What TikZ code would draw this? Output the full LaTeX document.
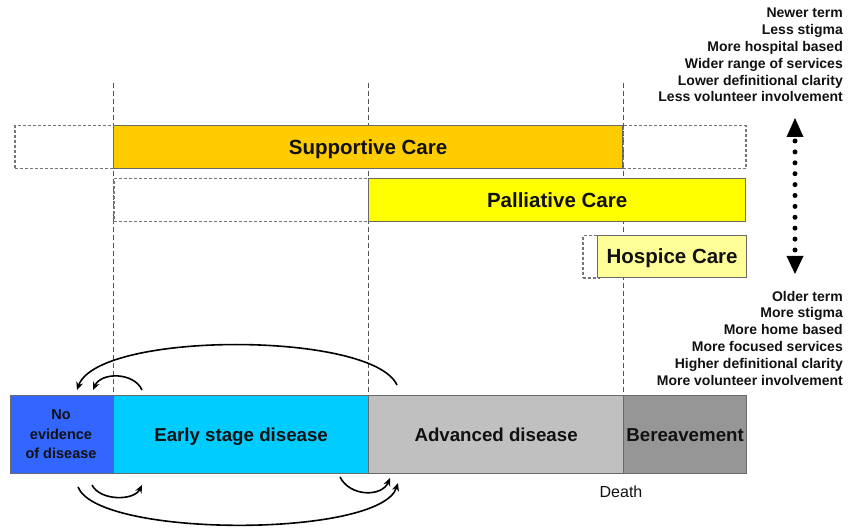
\documentclass[tikz,border=0pt]{standalone}
\usepackage{fontspec}
\setmainfont{Liberation Sans}
\usetikzlibrary{arrows.meta}
\definecolor{orangeC}{HTML}{FFCC00}
\definecolor{yellowC}{HTML}{FFFF00}
\definecolor{lightY}{HTML}{FFFF99}
\definecolor{blueC}{HTML}{3366FF}
\definecolor{cyanC}{HTML}{00CCFF}
\definecolor{greyA}{HTML}{C0C0C0}
\definecolor{greyB}{HTML}{969696}
\definecolor{boxline}{HTML}{6A6A6A}
\definecolor{ghostline}{HTML}{777777}
\definecolor{guideline}{HTML}{555555}
\definecolor{txt}{HTML}{111111}
\begin{document}
\begin{tikzpicture}[x=1pt,y=-1pt,
  carebox/.style={draw=boxline, line width=1.2pt, inner sep=0pt, anchor=north west,
    text=txt, font=\bfseries\fontsize{20.5}{24}\selectfont, text height=14.7pt, text depth=0pt},
  barbox/.style={draw=boxline, line width=1.2pt, inner sep=0pt, anchor=north west,
    text=txt, font=\bfseries\fontsize{18.7}{22}\selectfont, text height=13.4pt, text depth=0pt,
    minimum height=78pt},
  ghostbox/.style={draw=ghostline, line width=1.5pt, dash pattern=on 3pt off 2pt,
    inner sep=0pt, anchor=north west},
  guide/.style={draw=guideline, line width=1pt, dash pattern=on 5pt off 3pt},
  sidetext/.style={text=txt, font=\bfseries\fontsize{14}{16}\selectfont, inner sep=0pt, anchor=base east},
  cyc/.style={draw=black, line width=1.6pt, -{Stealth[length=8pt,width=7pt]}},
]
\useasboundingbox (0,0) rectangle (848,529);

% guide lines
\coordinate (g1) at (113,83);
\coordinate (g2) at (368,83);
\coordinate (g3) at (623,83);
\coordinate (g1b) at (113,395);
\coordinate (g2b) at (368,395);
\coordinate (g3b) at (623,395);
\draw[guide] (g1) -- (g1b);
\draw[guide] (g2) -- (g2b);
\draw[guide] (g3) -- (g3b);

% ghost boxes
\node[ghostbox, minimum width=99pt, minimum height=43pt] (sgl) at (14,125) {};
\node[ghostbox, minimum width=123pt, minimum height=43pt] (sgr) at (622,125) {};
\node[ghostbox, minimum width=255pt, minimum height=43pt] (pgl) at (113,178) {};
\node[ghostbox, minimum width=16pt, minimum height=42pt] (hgl) at (582,235) {};

% care boxes
\node[carebox, fill=orangeC, minimum width=509pt, minimum height=43pt] (sup) at (113,125) {Supportive Care};
\node[carebox, fill=yellowC, minimum width=377pt, minimum height=43pt] (pal) at (368,178) {Palliative Care};
\node[carebox, fill=lightY, minimum width=149pt, minimum height=42pt] (hos) at (597,235) {Hospice Care};

% bottom bar
\node[barbox, fill=blueC, minimum width=103pt] (ned) at (10,395) {};
\node[text=txt, font=\bfseries\fontsize{14.5}{19.5}\selectfont, align=center, inner sep=0pt] (nedt) at (61,434.5) {No\\evidence\\of disease};
\node[barbox, fill=cyanC, minimum width=255pt] (early) at (113,395) {Early stage disease};
\node[barbox, fill=greyA, minimum width=255pt] (adv) at (368,395) {Advanced disease};
\node[barbox, fill=greyB, minimum width=123pt] (ber) at (623,395) {Bereavement};

\node[text=txt, font=\fontsize{16}{18}\selectfont, inner sep=0pt, anchor=base] (death) at (621,497) {Death};

% cycle arrows
\coordinate (a1s) at (397,385); \coordinate (a1e) at (77,390);
\coordinate (a2s) at (142,390); \coordinate (a2e) at (93,390);
\coordinate (a3s) at (92,485);  \coordinate (a3e) at (142,485);
\coordinate (a4s) at (78,487);  \coordinate (a4e) at (398,483);
\coordinate (a5s) at (340,477); \coordinate (a5e) at (390,478);
\draw[cyc] (a1s) .. controls (372,331) and (98,331) .. (a1e);
\draw[cyc] (a2s) .. controls (134,372) and (101,372) .. (a2e);
\draw[cyc] (a3s) .. controls (100,501) and (134,501) .. (a3e);
\draw[cyc] (a4s) .. controls (98,538) and (380,538) .. (a4e);
\draw[cyc] (a5s) .. controls (350,497) and (382,497) .. (a5e);

% dotted double arrow
\coordinate (dtop) at (795,118);
\coordinate (dbot) at (795,274);
\fill[black] (dtop) -- ++(-8.5,19) -- ++(17,0) -- cycle;
\fill[black] (dbot) -- ++(-8.5,-18) -- ++(17,0) -- cycle;
\draw[black, line width=5pt, line cap=round, dash pattern=on 0pt off 10.9pt] (795,141) -- (795,251);

% side texts
\foreach \t [count=\i] in {Newer term, Less stigma, More hospital based, Wider range of services, Lower definitional clarity, Less volunteer involvement}
  \node[sidetext] (up\i) at (843,{18+(\i-1)*16.8}) {\t};
\foreach \t [count=\i] in {Older term, More stigma, More home based, More focused services, Higher definitional clarity, More volunteer involvement}
  \node[sidetext] (dn\i) at (843,{301+(\i-1)*16.8}) {\t};
\end{tikzpicture}
\end{document}
